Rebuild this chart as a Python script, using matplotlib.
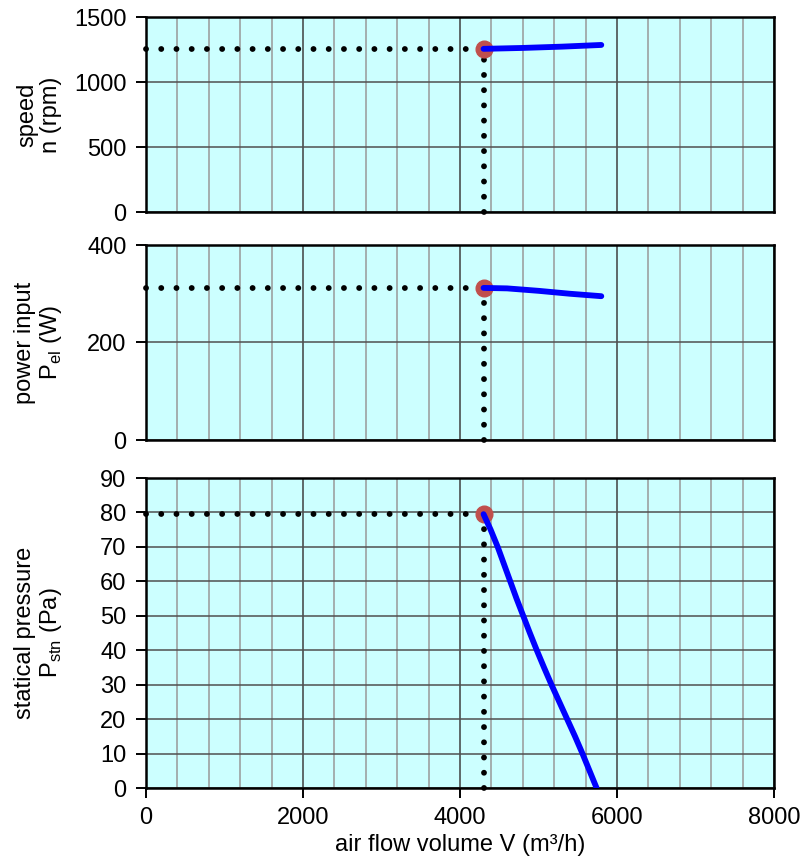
import matplotlib
matplotlib.use("Agg")
import matplotlib.pyplot as plt
from matplotlib.ticker import MultipleLocator

plt.rcParams['font.family'] = ['Liberation Sans', 'DejaVu Sans']
plt.rcParams['mathtext.fontset'] = 'custom'
plt.rcParams['mathtext.rm'] = 'Liberation Sans'

# operating point
op_flow = 4300
op_speed = 1255
op_power = 312
op_pressure = 79.5

# speed curve
speed_flow = [4300, 4800, 5300, 5800]
speed_rpm = [1255, 1262, 1272, 1285]

# power curve
power_flow = [4300, 4600, 5000, 5400, 5800]
power_w = [312, 311, 306, 300, 295]

# pressure curve
pres_flow = [4300, 4390, 4480, 4560, 4640, 4720, 4805, 4890, 4978, 5070, 5165, 5265, 5365, 5465, 5560, 5650, 5740]
pres_pa = [79.5, 75, 70, 65, 60, 55, 50, 45, 40, 35, 30, 25, 20, 15, 10, 5, 0]

xlabel = "air flow volume V (m³/h)"
ylabels = ["speed\nn (rpm)",
           "power input\nP$_{\\mathregular{el}}$ (W)",
           "statical pressure\nP$_{\\mathregular{stn}}$ (Pa)"]

W, H = 802, 863
fig = plt.figure(figsize=(W / 100, H / 100), dpi=100)

def rect(top, bottom):
    return [146 / W, 1 - bottom / H, (774 - 146) / W, (bottom - top) / H]

axes = [fig.add_axes(rect(17, 212)), fig.add_axes(rect(245, 440)), fig.add_axes(rect(478, 788))]
ylims = [(0, 1500), (0, 400), (0, 90)]
ysteps = [500, 200, 10]
curves = [(speed_flow, speed_rpm, op_speed), (power_flow, power_w, op_power), (pres_flow, pres_pa, op_pressure)]

fs = 17
for i, ax in enumerate(axes):
    ax.set_facecolor('#CCFFFF')
    ax.set_xlim(0, 8000)
    ax.set_ylim(*ylims[i])
    ax.xaxis.set_major_locator(MultipleLocator(2000))
    ax.xaxis.set_minor_locator(MultipleLocator(400))
    ax.yaxis.set_major_locator(MultipleLocator(ysteps[i]))
    ax.grid(True, which='major', axis='y', color='#505050', lw=1.1)
    ax.grid(True, which='major', axis='x', color='#404040', lw=1.1)
    ax.grid(True, which='minor', axis='x', color='#999999', lw=1.1)
    ax.set_axisbelow(True)
    for s in ax.spines.values():
        s.set_linewidth(1.8)
        s.set_color('black')
    ax.tick_params(axis='y', which='major', direction='out', length=7, width=1.4, labelsize=fs, pad=7)
    ax.tick_params(axis='x', which='minor', length=0)
    if i < 2:
        ax.tick_params(axis='x', which='major', length=0, labelbottom=False)
    else:
        ax.tick_params(axis='x', which='major', direction='out', length=7, width=1.4, labelsize=fs, pad=7)
        ax.set_xlabel(xlabel, fontsize=fs, labelpad=3)
    ax.set_ylabel(ylabels[i], fontsize=fs, linespacing=1.12, ha='center', va='center')
    ax.yaxis.set_label_coords(-0.17, 0.5)

    fx, fy, opv = curves[i]
    dot = dict(color='black', lw=4.2, linestyle=(0, (0.01, 2.6)), dash_capstyle='round', solid_capstyle='round', zorder=3, clip_on=False)
    ax.plot([0, op_flow], [opv, opv], **dot)
    ax.plot([op_flow, op_flow], [0, opv], **dot)
    ax.plot(fx, fy, color='#0000FF', lw=4.2, solid_capstyle='round', solid_joinstyle='round', zorder=4)
    ax.plot([op_flow], [opv], 'o', ms=12, color='#C0504D', mec='#C0504D', zorder=3.5)

fig.savefig('out.png', dpi=100)
